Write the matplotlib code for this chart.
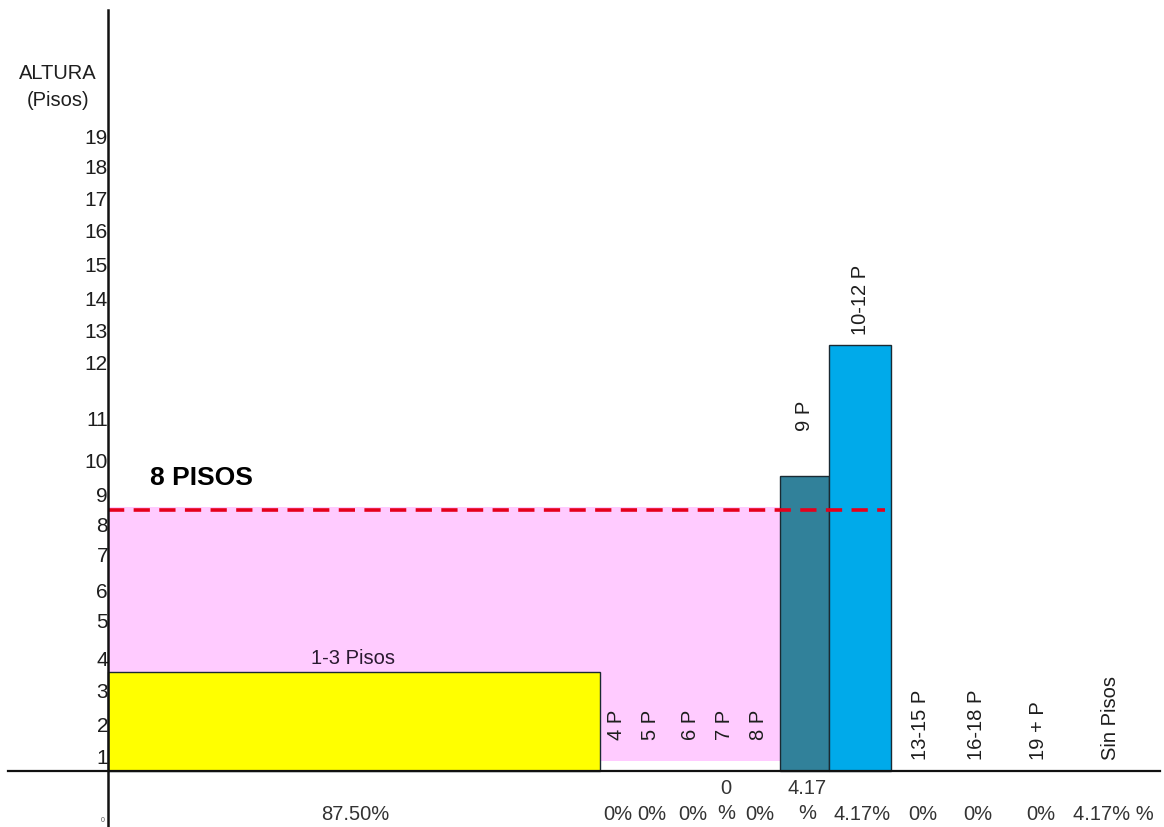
import numpy as np
import matplotlib.pyplot as plt
from matplotlib.transforms import offset_copy, blended_transform_factory

plt.rcParams['font.family'] = ['Liberation Sans', 'DejaVu Sans']

# building height groups and their share of the sample
categories = ["1-3 Pisos", "4 P", "5 P", "6 P", "7 P", "8 P", "9 P",
              "10-12 P", "13-15 P", "16-18 P", "19 + P", "Sin Pisos"]
shares = ["87.50%", "0%", "0%", "0%", "0\n%", "0%", "4.17\n%",
          "4.17%", "0%", "0%", "0%", "4.17% %"]
bar_floors = {"1-3 Pisos": 3, "9 P": 9, "10-12 P": 12}
limit_floors = 8          # normative height limit
limit_label = "8 PISOS"

# vertical scale of the drawing: floor number -> height in px above the ground line
scale_floor = [-2, 0, 1, 2, 3, 4, 5, 6, 7, 8, 9, 10, 11, 12, 13, 14, 15, 16, 17, 18, 19, 24]
scale_px = [-66, 0, 33, 65, 99, 131, 168, 199, 234, 264, 295, 328, 371, 426,
            459, 491, 524, 558, 590, 622, 653, 781]
tick_floors = list(range(1, 20))

# horizontal layout (px)
axis_x = 108
label_x = [353, 616, 650, 691, 724, 758, 805, 860, 921, 976, 1039, 1111]
bar_span = {"1-3 Pisos": (108, 600), "9 P": (780, 829), "10-12 P": (829, 891)}
bar_color = {"1-3 Pisos": "#FFFF00", "9 P": "#31819A", "10-12 P": "#00AAEA"}
label_lift = [None, 31, 31, 31, 31, 31, 45, 10, 11, 11, 11, 11]


def fwd(f):
    return np.interp(f, scale_floor, scale_px)


def inv(h):
    return np.interp(h, scale_px, scale_floor)


W, H = 1164, 827
base_y = 771
fig = plt.figure(figsize=(W / 100, H / 100), dpi=100)
ax = fig.add_axes([0, 0, 1, 1])
ax.set_yscale('function', functions=(fwd, inv))
ax.set_xlim(0, W)
ax.set_ylim(float(inv(base_y - H)), float(inv(base_y)))
ax.axis('off')

txt = '#1e1e1e'
fs = 14.5

# pink band up to the height limit
pink_bottom = float(inv(10))
ax.bar(axis_x, limit_floors - pink_bottom, width=780 - axis_x, bottom=pink_bottom,
       align='edge', color='#FFCBFF', linewidth=0, zorder=1)

# bars
for name, fl in bar_floors.items():
    x0, x1 = bar_span[name]
    ax.bar(x0, fl, width=x1 - x0, align='edge', color=bar_color[name],
           edgecolor='#1a2a33', linewidth=1.0, zorder=2)

# height limit
ax.plot([axis_x, 885], [limit_floors - 0.1] * 2, color='#E5001B', lw=2.6,
        dashes=(4.5, 2.6), zorder=4)
ax.text(150, 8.95, limit_label, fontsize=19, fontweight='bold', color='black',
        ha='left', va='center', zorder=5)

# axes
ax.axvline(axis_x, ymin=0, ymax=1 - 10 / H, color='#111111', lw=1.8, zorder=6)
ax.plot([8, 1160], [0, 0], color='#111111', lw=1.6, zorder=6)

# floor ticks, drawn a little below each level
tick_tr = offset_copy(ax.transData, fig=fig, x=0, y=-20, units='dots')
for f in tick_floors:
    ax.text(axis_x, f, str(f), transform=tick_tr, fontsize=15, color=txt,
            ha='right', va='center')
ax.text(58 / W, 1 - 87 / H, "ALTURA\n(Pisos)", transform=ax.transAxes,
        fontsize=fs, color=txt, ha='center', va='center', linespacing=1.5)
ax.text(103 / W, 1 - 820 / H, "0", transform=ax.transAxes, fontsize=5,
        color='#555555', ha='center', va='center')

# category labels
for name, x, lift in zip(categories, label_x, label_lift):
    if name == "1-3 Pisos":
        ax.text(x, bar_floors[name], name, fontsize=fs, color='#2a1a30',
                ha='center', va='bottom',
                transform=offset_copy(ax.transData, fig=fig, y=4, units='dots'))
        continue
    top = bar_floors.get(name, 0)
    tr = offset_copy(ax.transData, fig=fig, y=lift, units='dots')
    ax.text(x, top, name, rotation=90, fontsize=fs, color=txt,
            ha='center', va='bottom', transform=tr, zorder=5)

# shares below the ground line
pct_tr = blended_transform_factory(ax.transData, ax.transAxes)
for s, x in zip(shares, label_x):
    n = s.count("\n") + 1
    y_px = 815 - 14 * (n - 1)
    ax.text(x + 2, 1 - y_px / H, s, transform=pct_tr, fontsize=fs, color='#333333',
            ha='center', va='center', linespacing=1.45)

fig.savefig('out.png', dpi=100, facecolor='white')
